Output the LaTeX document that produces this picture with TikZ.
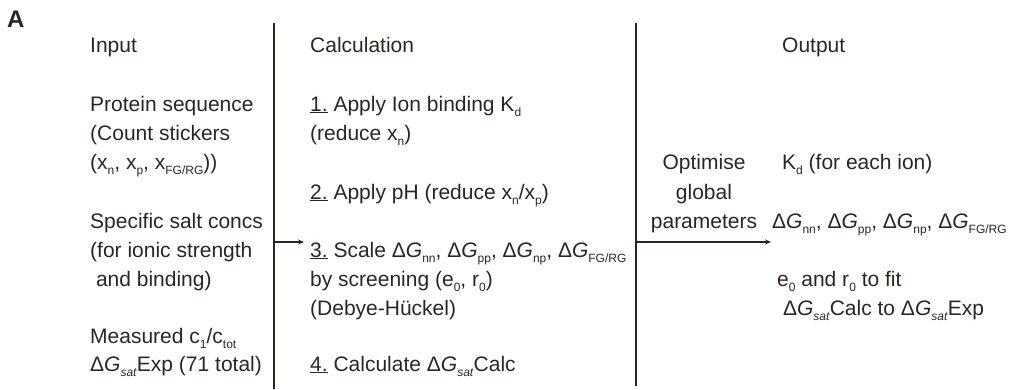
\documentclass[tikz,border=0pt]{standalone}
\usepackage{fontspec}
\setmainfont{Liberation Sans}
\usetikzlibrary{arrows.meta}
\definecolor{ink}{RGB}{43,38,33}
\newcommand{\sbs}[1]{\raisebox{-0.27em}{\fontsize{12}{12}\selectfont #1}}
\newcommand{\dG}{Δ\textit{G}}
\newcommand{\ulnum}[1]{\underline{#1}}
\begin{document}
\begin{tikzpicture}[x=1pt,y=-1pt,
  txt/.style={anchor=base west, inner sep=0pt, text=ink, font=\fontsize{21}{29}\selectfont},
  ctr/.style={anchor=base, inner sep=0pt, text=ink, font=\fontsize{21}{29}\selectfont},
  rule/.style={draw=ink, line width=1.1pt},
  conn/.style={draw=ink, line width=1.1pt, -{Stealth[length=6pt,width=5pt]}}]
\useasboundingbox (0,0) rectangle (1017,389);
% panel label
\node[anchor=base west, inner sep=0pt, text=ink, font=\fontsize{24}{24}\selectfont\bfseries] (lbl) at (7,27) {A};
% column rules
\coordinate (l1) at (274,23);
\coordinate (l2) at (274,389);
\coordinate (r1) at (636,23);
\coordinate (r2) at (636,386);
\draw[rule] (l1) -- (l2);
\draw[rule] (r1) -- (r2);
% input column
\node[txt] (in0) at (90,52) {Input};
\node[txt] (in1) at (90,111) {Protein sequence};
\node[txt] (in2) at (90,140) {(Count stickers};
\node[txt] (in3) at (90,169) {(x\sbs{n}, x\sbs{p}, x\sbs{FG/RG}))};
\node[txt] (in4) at (90,228) {Specific salt concs};
\node[txt] (in5) at (90,257) {(for ionic strength};
\node[txt] (in6) at (90,286) {\ and binding)};
\node[txt] (in7) at (90,343) {Measured c\sbs{1}/c\sbs{tot}};
\node[txt] (in8) at (90,371) {\dG\sbs{\textit{sat}}Exp (71 total)};
% calculation column
\node[txt] (c0) at (310,52) {Calculation};
\node[txt] (c1) at (310,111) {\ulnum{1.} Apply Ion binding K\sbs{d}};
\node[txt] (c2) at (310,140) {(reduce x\sbs{n})};
\node[txt] (c3) at (310,199) {\ulnum{2.} Apply pH (reduce x\sbs{n}/x\sbs{p})};
\node[txt] (c4) at (310,257) {\ulnum{3.} Scale \dG\sbs{nn}, \dG\sbs{pp}, \dG\sbs{np}, \dG\sbs{FG/RG}};
\node[txt] (c5) at (310,286) {by screening (e\sbs{0}, r\sbs{0})};
\node[txt] (c6) at (310,315) {(Debye-Hückel)};
\node[txt] (c7) at (310,371) {\ulnum{4.} Calculate \dG\sbs{\textit{sat}}Calc};
% optimise
\node[ctr] (o1) at (704,169) {Optimise};
\node[ctr] (o2) at (704,199) {global};
\node[ctr] (o3) at (704,228) {parameters};
% output column
\node[txt] (out0) at (782,52) {Output};
\node[txt] (out1) at (782,169) {K\sbs{d} (for each ion)};
\node[txt] (out2) at (772,228) {\dG\sbs{nn}, \dG\sbs{pp}, \dG\sbs{np}, \dG\sbs{FG/RG}};
\node[txt] (out3) at (777,286) {e\sbs{0} and r\sbs{0} to fit};
\node[txt] (out4) at (777,315) {\ \dG\sbs{\textit{sat}}Calc to \dG\sbs{\textit{sat}}Exp};
% connectors
\coordinate (a1s) at (274,242);
\coordinate (a1e) at (304,242);
\coordinate (a2s) at (636,242);
\coordinate (a2e) at (771,242);
\draw[conn] (a1s) -- (a1e);
\draw[conn] (a2s) -- (a2e);
\end{tikzpicture}
\end{document}
